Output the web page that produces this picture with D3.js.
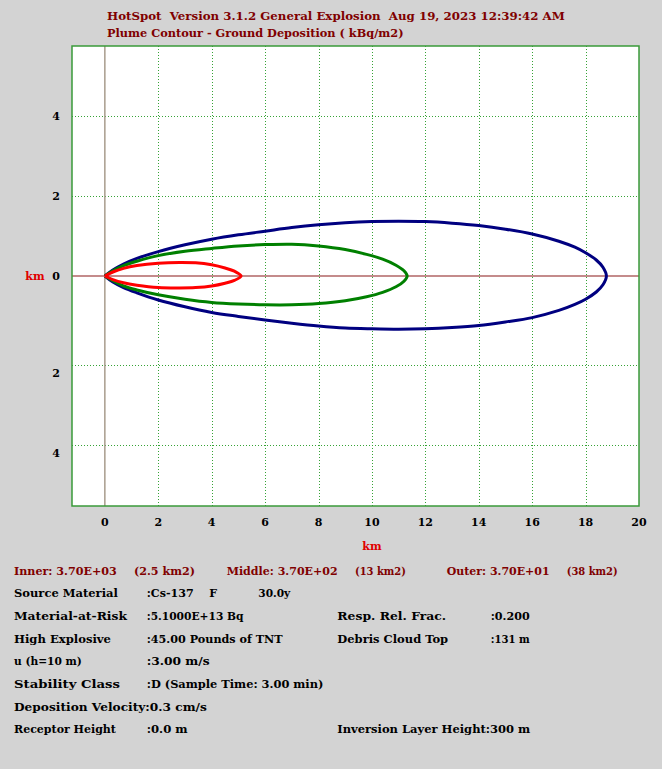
<!DOCTYPE html>
<html><head><meta charset="utf-8">
<script src="https://cdn.jsdelivr.net/npm/d3@7"></script>
<style>
body{margin:0;background:#d3d3d3;}
svg text{font-family:"DejaVu Serif";font-weight:bold;font-size:11px;white-space:pre;}
</style>
</head><body><svg id="c" width="662" height="769"></svg>
<script>
// ---------- data ----------
const titleLines = ["HotSpot  Version 3.1.2 General Explosion  Aug 19, 2023 12:39:42 AM",
                    "Plume Contour - Ground Deposition ( kBq/m2)"];
const xTickValues = [0,2,4,6,8,10,12,14,16,18,20];
const xTickLabels = ["0","2","4","6","8","10","12","14","16","18","20"];
const xGridValues = [2,4,6,8,10,12,14,16,18];
const yGridValues = [4,2,-2.23,-4.23];
const yLabelValues = [4,2,0,-2.42,-4.42];
const yTickLabels = ["4","2","0","2","4"];

// contour outlines (km): downwind x, upper y, lower y
const outerX      = [0,0.3,0.7,1.2,2,3,4,5,6,7,8,9,10,11,12,13,14,15,16,17,17.6,18,18.4,18.65,18.78];
const outerTop    = [0,0.15,0.30,0.44,0.61,0.78,0.92,1.03,1.12,1.21,1.28,1.33,1.36,1.37,1.36,1.32,1.26,1.17,1.05,0.87,0.72,0.58,0.40,0.22,0];
const outerBottom = [0,-0.15,-0.29,-0.42,-0.60,-0.77,-0.91,-1.01,-1.10,-1.18,-1.25,-1.30,-1.32,-1.33,-1.32,-1.29,-1.24,-1.15,-1.04,-0.86,-0.71,-0.58,-0.40,-0.22,0];
const middleX      = [0,0.3,0.7,1.2,2,3,4,5,6,7,8,9,9.8,10.4,10.9,11.2,11.32];
const middleTop    = [0,0.13,0.26,0.37,0.51,0.62,0.69,0.75,0.785,0.795,0.75,0.66,0.54,0.42,0.27,0.13,0];
const middleBottom = [0,-0.12,-0.25,-0.35,-0.47,-0.58,-0.66,-0.70,-0.72,-0.72,-0.69,-0.62,-0.52,-0.41,-0.27,-0.13,0];
const innerX      = [0,0.3,0.7,1.2,2,2.8,3.4,4,4.5,4.85,5.1];
const innerTop    = [0,0.10,0.19,0.26,0.32,0.34,0.33,0.28,0.20,0.12,0];
const innerBottom = [0,-0.09,-0.17,-0.23,-0.29,-0.30,-0.29,-0.25,-0.18,-0.11,0];

const contourNames  = ["Inner","Middle","Outer"];
const contourLevels = ["3.70E+03","3.70E+02","3.70E+01"];
const contourAreas  = ["(2.5 km2)","(13 km2)","(38 km2)"];

const infoLabels = ["Source Material","Material-at-Risk","High Explosive","u (h=10 m)","Stability Class","Deposition Velocity:0.3 cm/s","Receptor Height"];
const infoValues = [":Cs-137",":5.1000E+13 Bq",":45.00 Pounds of TNT",":3.00 m/s",":D (Sample Time: 3.00 min)","",":0.0 m"];
const sourceExtras = ["F","30.0y"];
const rightLabels = ["","Resp. Rel. Frac.","Debris Cloud Top","","","","Inversion Layer Height:300 m"];
const rightValues = ["",":0.200",":131 m","","","",""];

// ---------- layout (rendered widths of text runs, px) ----------
const textWidths = {
  "HotSpot  Version 3.1.2 General Explosion  Aug 19, 2023 12:39:42 AM":458,
  "Plume Contour - Ground Deposition ( kBq/m2)":297,
  "Inner: 3.70E+03":103,"(2.5 km2)":61,"Middle: 3.70E+02":111,"(13 km2)":51,
  "Outer: 3.70E+01":103,"(38 km2)":51,
  "Source Material":104,":Cs-137":47,"30.0y":32,"Material-at-Risk":113,
  ":5.1000E+13 Bq":97,"Resp. Rel. Frac.":109,":0.200":39,"High Explosive":97,
  ":45.00 Pounds of TNT":136,"Debris Cloud Top":111,":131 m":39,"u (h=10 m)":68,
  ":3.00 m/s":63,"Stability Class":106,":D (Sample Time: 3.00 min)":177,
  "Deposition Velocity:0.3 cm/s":193,"Receptor Height":102,":0.0 m":41,
  "Inversion Layer Height:300 m":193
};

// ---------- drawing ----------
const svg = d3.select("#c");
svg.append("rect").attr("width",662).attr("height",769).attr("fill","#d3d3d3");

// place a text run at (px,py), horizontally scaled to its reference width
function txt(px, py, s, fill){
  const t = svg.append("text").attr("dy","0.35em").attr("fill",fill||"#000").text(s);
  const target = textWidths[s];
  let k = 1;
  if(target){ const w = t.node().getComputedTextLength(); if(w>0) k = target/w; }
  t.attr("transform",`translate(${px},${py}) scale(${k},1)`);
  return t;
}

const x = d3.scaleLinear().domain([-1.23,20]).range([72,639]);
const y = d3.scaleLinear().domain([-5.75,5.75]).range([506,46]);

titleLines.forEach((t,i)=> txt(107, 16+i*17, t, "#800000"));

svg.append("rect").attr("x",x(-1.23)).attr("y",y(5.75))
  .attr("width",x(20)-x(-1.23)).attr("height",y(-5.75)-y(5.75))
  .attr("fill","#fff");

const grid = svg.append("g").attr("stroke","#36a336").attr("stroke-width",1).attr("stroke-dasharray","1,2");
grid.selectAll("line.vx").data(xGridValues).join("line")
  .attr("x1",d=>Math.round(x(d))+0.5).attr("x2",d=>Math.round(x(d))+0.5)
  .attr("y1",y(5.75)).attr("y2",y(-5.75));
grid.selectAll("line.hy").data(yGridValues).join("line")
  .attr("y1",d=>Math.round(y(d))+0.5).attr("y2",d=>Math.round(y(d))+0.5)
  .attr("x1",x(-1.23)).attr("x2",x(20));

// zero axes
svg.append("line").attr("x1",x(0)).attr("x2",x(0)).attr("y1",y(5.75)).attr("y2",y(-5.75))
  .attr("stroke","#a89c8c").attr("stroke-width",1.5);
svg.append("line").attr("x1",x(-1.23)).attr("x2",x(20)).attr("y1",y(0)).attr("y2",y(0))
  .attr("stroke","#b06464").attr("stroke-width",1.5);

// border
svg.append("rect").attr("x",x(-1.23)).attr("y",y(5.75))
  .attr("width",x(20)-x(-1.23)).attr("height",y(-5.75)-y(5.75))
  .attr("fill","none").attr("stroke","#3a9a3a").attr("stroke-width",1.5);

// contours
function outline(xs,top,bot){
  const pts = xs.map((v,i)=>[v,top[i]]);
  for(let i=xs.length-2;i>=0;i--) pts.push([xs[i],bot[i]]);
  return pts;
}
const line = d3.line().x(d=>x(d[0])).y(d=>y(d[1])).curve(d3.curveCatmullRom.alpha(0.5));
const contours = [
  {pts:outline(outerX,outerTop,outerBottom),color:"#000080"},
  {pts:outline(middleX,middleTop,middleBottom),color:"#008000"},
  {pts:outline(innerX,innerTop,innerBottom),color:"#ff0000"}
];
svg.selectAll("path.ct").data(contours).join("path")
  .attr("d",d=>line(d.pts)).attr("fill","none")
  .attr("stroke",d=>d.color).attr("stroke-width",3).attr("stroke-linejoin","round");

// axis labels
svg.selectAll("text.xt").data(xTickValues).join("text")
  .attr("x",d=>x(d)).attr("y",522).attr("dy","0.35em").attr("text-anchor","middle")
  .attr("fill","#000").text((d,i)=>xTickLabels[i]);
svg.selectAll("text.yt").data(yLabelValues).join("text")
  .attr("x",60).attr("y",d=>y(d)).attr("dy","0.35em").attr("text-anchor","end")
  .attr("fill","#000").text((d,i)=>yTickLabels[i]);
svg.append("text").attr("x",x(10)).attr("y",546).attr("dy","0.35em").attr("text-anchor","middle")
  .attr("fill","#e00000").text("km");
svg.append("text").attr("x",35).attr("y",y(0)).attr("dy","0.35em").attr("text-anchor","middle")
  .attr("fill","#e00000").text("km");

// legend row and info block
const row0 = 570.7, rowH = 22.66;
const legX = [14,226.7,446.7], areaX=[134,355,566.7];
contourNames.forEach((n,i)=>{
  txt(legX[i], row0, n+": "+contourLevels[i], "#800000");
  txt(areaX[i], row0, contourAreas[i], "#800000");
});
infoLabels.forEach((t,i)=>{
  const yy = row0 + (i+1)*rowH;
  txt(14, yy, t);
  if(infoValues[i]) txt(146.7, yy, infoValues[i]);
  if(rightLabels[i]) txt(337.3, yy, rightLabels[i]);
  if(rightValues[i]) txt(490.7, yy, rightValues[i]);
});
txt(209.3, row0+rowH, sourceExtras[0]);
txt(258.3, row0+rowH, sourceExtras[1]);
</script>
</body></html>
